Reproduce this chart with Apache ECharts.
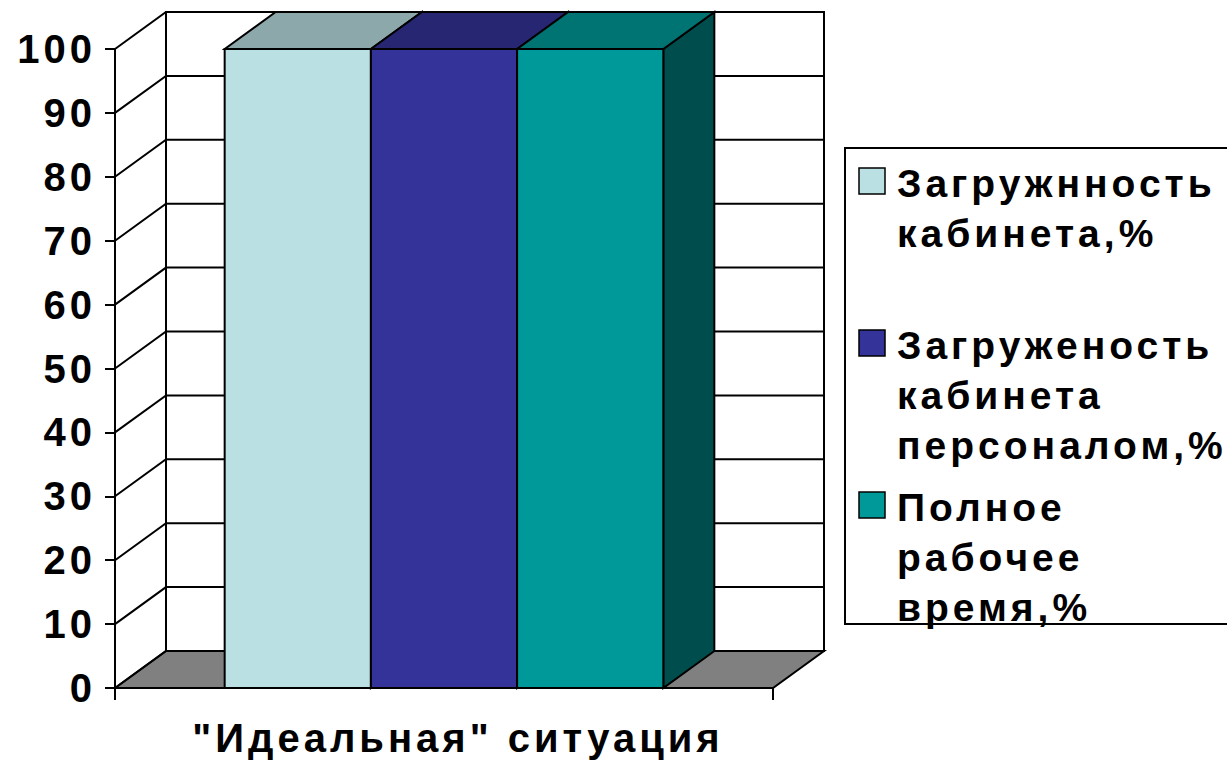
<!DOCTYPE html>
<html>
<head>
<meta charset="utf-8">
<script src="https://cdn.jsdelivr.net/npm/echarts@6/dist/echarts.min.js"></script>
<style>
  html, body { margin: 0; padding: 0; background: #fff; }
  #chart { width: 1227px; height: 761px; }
  /* wide letter spacing of the old spreadsheet font */
  #chart text { letter-spacing: 4px; }
</style>
</head>
<body>
<div id="chart"></div>
<script>
// ---- data ----
const categories = ['"Идеальная" ситуация'];
const seriesNames = [
  'Загружнность\nкабинета,%',
  'Загруженость\nкабинета\nперсоналом,%',
  'Полное\nрабочее\nвремя,%'
];
const cabinetLoad = [100];
const staffLoad = [100];
const fullWorkTime = [100];
const yTicks = [0, 10, 20, 30, 40, 50, 60, 70, 80, 90, 100];

// ---- styling ----
const colors = ['#BBE0E3', '#333399', '#009999'];
const FONT = '"Liberation Sans", Arial, sans-serif';
const DX = 51, DY = 37;          // depth offset of the 3D box
const EDGE = { stroke: '#000', lineWidth: 2 };

function shade(hex, k) {
  const n = parseInt(hex.slice(1), 16);
  const r = Math.round(((n >> 16) & 255) * k);
  const g = Math.round(((n >> 8) & 255) * k);
  const b = Math.round((n & 255) * k);
  return 'rgb(' + r + ',' + g + ',' + b + ')';
}

// back wall + floor
function renderWalls(params, api) {
  const band = api.size([1, 0])[0];
  const lo = api.coord([api.value(0), api.value(1)]);
  const hi = api.coord([api.value(0), api.value(2)]);
  const xl = lo[0] - band / 2, xr = lo[0] + band / 2;
  const y0 = lo[1], y1 = hi[1];
  return {
    type: 'group',
    children: [
      { type: 'rect', shape: { x: xl + DX, y: y1 - DY, width: band, height: y0 - y1 },
        style: Object.assign({ fill: '#fff' }, EDGE) },
      { type: 'polygon', shape: { points: [[xl, y0], [xl + DX, y0 - DY], [xr + DX, y0 - DY], [xr, y0]] },
        style: Object.assign({ fill: '#808080' }, EDGE) }
    ]
  };
}

// gridline on side wall and back wall for each tick
function renderGrid(params, api) {
  const band = api.size([1, 0])[0];
  const p = api.coord([api.value(0), api.value(1)]);
  const xl = p[0] - band / 2, xr = p[0] + band / 2, y = p[1];
  return {
    type: 'polyline',
    shape: { points: [[xl, y], [xl + DX, y - DY], [xr + DX, y - DY]] },
    style: Object.assign({ fill: null }, EDGE)
  };
}

// 3D column: front, top and right side faces
function makeBarRenderer(idx, count) {
  return function (params, api) {
    const band = api.size([1, 0])[0];
    const w = band / (count + 1.5);
    const base = api.coord([api.value(0), 0]);
    const top = api.coord([api.value(0), api.value(1)]);
    const x = base[0] - (count / 2) * w + idx * w;
    const y0 = base[1], yt = top[1];
    const c = colors[idx];
    return {
      type: 'group',
      children: [
        { type: 'polygon', shape: { points: [[x + w, yt], [x + w + DX, yt - DY], [x + w + DX, y0 - DY], [x + w, y0]] },
          style: Object.assign({ fill: shade(c, 0.5) }, EDGE) },
        { type: 'polygon', shape: { points: [[x, yt], [x + DX, yt - DY], [x + w + DX, yt - DY], [x + w, yt]] },
          style: Object.assign({ fill: shade(c, 0.75) }, EDGE) },
        { type: 'rect', shape: { x: x, y: yt, width: w, height: y0 - yt },
          style: Object.assign({ fill: c }, EDGE) }
      ]
    };
  };
}

const valueSets = [cabinetLoad, staffLoad, fullWorkTime];
const barSeries = valueSets.map(function (vals, i) {
  return {
    type: 'custom',
    name: seriesNames[i],
    color: colors[i],
    z: 3 + i,
    renderItem: makeBarRenderer(i, valueSets.length),
    data: categories.map(function (c, k) { return [k, vals[k]]; })
  };
});

// legend drawn as a framed box with swatches and multi-line names
const legendLineCenters = [183, 345, 507];
const legendGraphics = [{
  type: 'rect', shape: { x: 845, y: 148, width: 420, height: 476 },
  style: { fill: '#fff', stroke: '#000', lineWidth: 2 }, z: 10
}];
seriesNames.forEach(function (name, i) {
  const cy = legendLineCenters[i];
  legendGraphics.push({
    type: 'rect', shape: { x: 859, y: cy - 15, width: 26, height: 26 },
    style: { fill: colors[i], stroke: '#000', lineWidth: 1.5 }, z: 11
  });
  legendGraphics.push({
    type: 'text', x: 897, y: cy - 25, z: 11,
    style: { text: name, fill: '#000', fontSize: 39, fontWeight: 'bold', fontFamily: FONT,
             lineHeight: 50, verticalAlign: 'top', align: 'left' }
  });
});

const chart = echarts.init(document.getElementById('chart'), null, { renderer: 'svg' });
chart.setOption({
  animation: false,
  backgroundColor: '#fff',
  grid: { left: 115, top: 49, width: 658, height: 639, containLabel: false },
  xAxis: {
    type: 'category',
    data: categories,
    axisLine: { show: true, lineStyle: { color: '#000', width: 2 } },
    axisTick: { show: true, length: 12, lineStyle: { color: '#000', width: 2 } },
    axisLabel: { margin: 30, color: '#000', fontSize: 40, fontWeight: 'bold', fontFamily: FONT,
                 padding: [0, 0, 0, 28] },
    splitLine: { show: false }
  },
  yAxis: {
    type: 'value',
    min: yTicks[0],
    max: yTicks[yTicks.length - 1],
    interval: yTicks[1] - yTicks[0],
    axisLine: { show: true, lineStyle: { color: '#000', width: 2 } },
    axisTick: { show: true, length: 10, lineStyle: { color: '#000', width: 2 } },
    axisLabel: { margin: 19, color: '#000', fontSize: 40, fontWeight: 'bold', fontFamily: FONT,
                 padding: [6, 0, 0, 0] },
    splitLine: { show: false }
  },
  graphic: legendGraphics,
  series: [
    {
      type: 'custom', name: 'walls', z: 1, silent: true,
      renderItem: renderWalls,
      data: [[0, yTicks[0], yTicks[yTicks.length - 1]]]
    },
    {
      type: 'custom', name: 'gridlines', z: 2, silent: true,
      renderItem: renderGrid,
      data: yTicks.map(function (v) { return [0, v]; })
    }
  ].concat(barSeries)
});
</script>
</body>
</html>
